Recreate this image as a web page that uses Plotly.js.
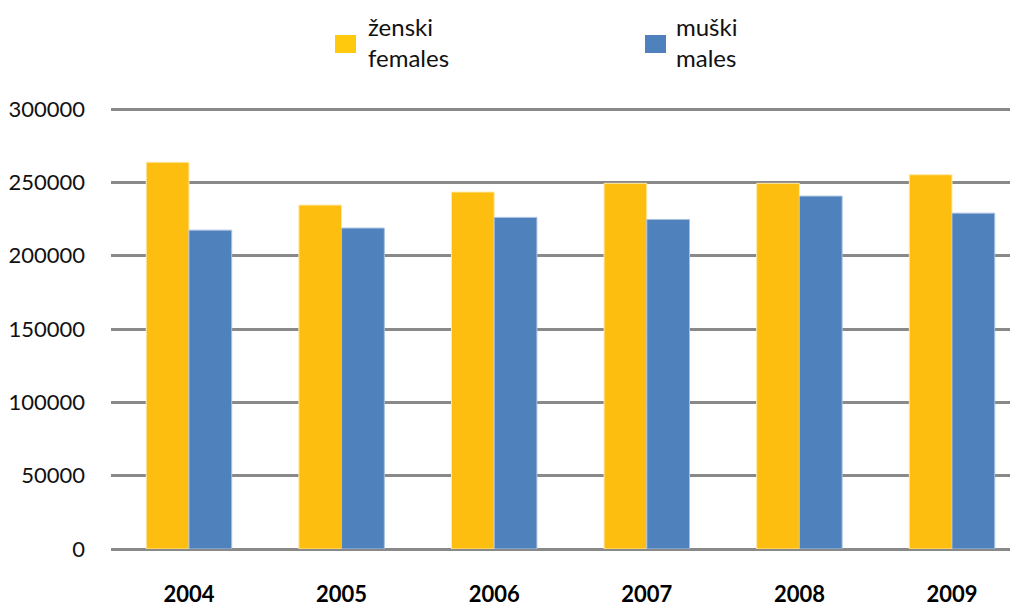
<!DOCTYPE html>
<html>
<head>
<meta charset="utf-8">
<script src="https://cdn.plot.ly/plotly-3.0.1.min.js"></script>
<style>html,body{margin:0;padding:0;background:#fff;}#chart{width:1022px;height:606px;}</style>
</head>
<body>
<div id="chart"></div>
<script>
const years = ['2004', '2005', '2006', '2007', '2008', '2009'];
const females = [263700, 234500, 243400, 249300, 249300, 255200];
const males = [217400, 218800, 226100, 224700, 240600, 229000];
const femaleName = ['ženski', 'females'];
const maleName = ['muški', 'males'];
const yTicks = [0, 50000, 100000, 150000, 200000, 250000, 300000];

const FONT = 'Lato, "Open Sans", sans-serif';
const traces = [
  {type: 'bar', x: years, y: females, name: femaleName.join(' '), showlegend: false,
   marker: {color: '#FDBE10', line: {color: '#FFE9A8', width: 1}}},
  {type: 'bar', x: years, y: males, name: maleName.join(' '), showlegend: false,
   marker: {color: '#4F81BD', line: {color: '#A9C1DE', width: 1}}}
];

// plot area: x 111..1010, y 107..549 (300000 at y=109)
const PL = 111, PW = 899, PB = 549, PH = 442;
const legendItems = [
  {x0: 335, x1: 356, tx: 366, color: '#FFC90E', lines: femaleName},
  {x0: 645, x1: 666, tx: 674, color: '#4F81BD', lines: maleName}
];
const shapes = [], annotations = [];
legendItems.forEach(it => {
  shapes.push({type: 'rect', xref: 'paper', yref: 'paper',
    x0: (it.x0 - PL) / PW, x1: (it.x1 - PL) / PW,
    y0: (PB - 53) / PH, y1: (PB - 35) / PH,
    fillcolor: it.color, line: {width: 0}});
  annotations.push({xref: 'paper', yref: 'paper', x: (it.tx - PL) / PW,
    y: (PB - 42) / PH, xanchor: 'left', yanchor: 'middle', align: 'left',
    showarrow: false, text: it.lines.join('<br>'),
    font: {family: FONT, size: 24, color: '#111'}});
});

const layout = {
  width: 1022, height: 606,
  margin: {l: PL, r: 1022 - PL - PW, t: 107, b: 606 - PB, pad: 0},
  paper_bgcolor: '#fff', plot_bgcolor: '#fff',
  barmode: 'group', bargap: 0.44, bargroupgap: 0,
  showlegend: false,
  xaxis: {type: 'category', range: [-0.511, 5.38], showgrid: false,
    showline: false, zeroline: false, ticks: '',
    tickfont: {family: FONT, size: 22, color: '#000', weight: 'bold'},
    ticklabelstandoff: 30},
  yaxis: {range: [0, 301364], tickvals: yTicks, ticktext: yTicks.map(String),
    showgrid: true, gridcolor: '#898989', gridwidth: 3,
    zeroline: true, zerolinecolor: '#898989', zerolinewidth: 3,
    showline: false, ticks: '',
    tickfont: {family: FONT, size: 22, color: '#111'},
    ticklabelstandoff: 25},
  shapes: shapes,
  annotations: annotations
};

Plotly.newPlot('chart', traces, layout, {displayModeBar: false, staticPlot: true});
</script>
</body>
</html>
